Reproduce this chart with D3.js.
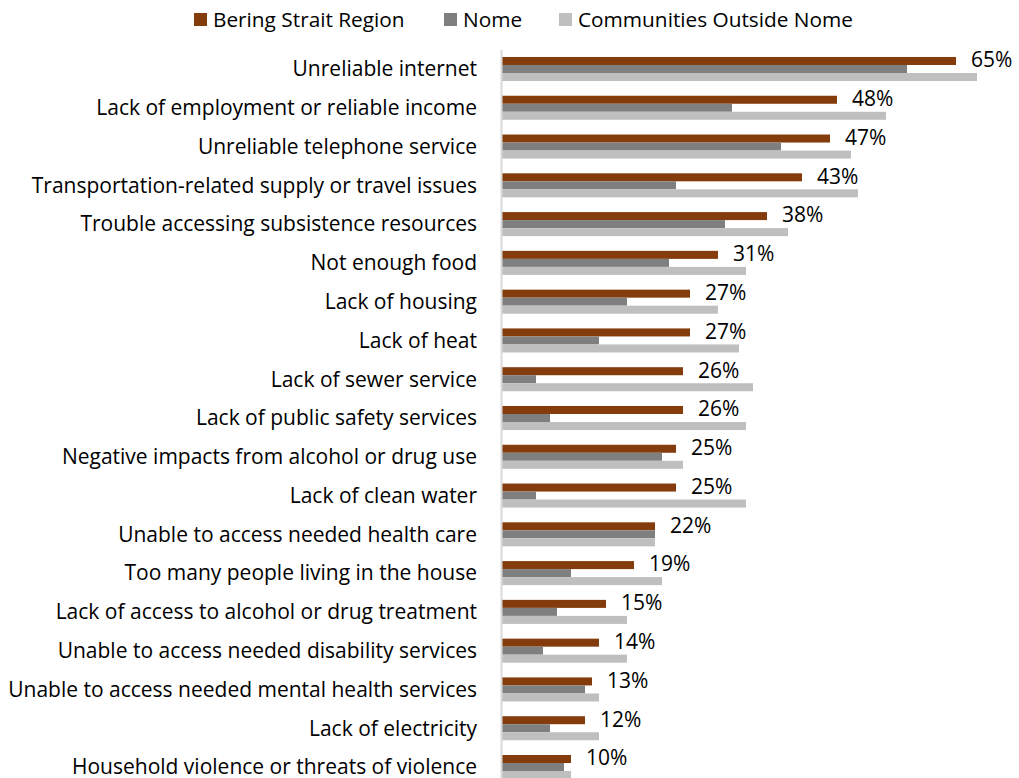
<!DOCTYPE html>
<html lang="en">
<head>
    <meta charset="UTF-8">
    <title>Community challenges - Bering Strait Region</title>
    <script src="https://d3js.org/d3.v7.min.js"></script>
    <style>
        body { margin: 0; background: #fff; }
        svg { display: block; }
        text { font-family: "Open Sans", sans-serif; fill: #000; }
        .axis text { font-size: 21px; }
        .axis .domain { stroke: #d9d9d9; stroke-width: 2px; }
        .legend text { font-size: 20.8px; }
        .value { font-size: 21px; }
    </style>
</head>
<body>
    <svg width="1019" height="778"></svg>

    <script>
        // categories, top to bottom
        const categories = [
            "Unreliable internet",
            "Lack of employment or reliable income",
            "Unreliable telephone service",
            "Transportation-related supply or travel issues",
            "Trouble accessing subsistence resources",
            "Not enough food",
            "Lack of housing",
            "Lack of heat",
            "Lack of sewer service",
            "Lack of public safety services",
            "Negative impacts from alcohol or drug use",
            "Lack of clean water",
            "Unable to access needed health care",
            "Too many people living in the house",
            "Lack of access to alcohol or drug treatment",
            "Unable to access needed disability services",
            "Unable to access needed mental health services",
            "Lack of electricity",
            "Household violence or threats of violence"
        ];

        const seriesNames = ["Bering Strait Region", "Nome", "Communities Outside Nome"];
        const seriesColors = ["#843c0c", "#7f7f7f", "#bfbfbf"];

        // percent values
        const beringStrait = [65, 48, 47, 43, 38, 31, 27, 27, 26, 26, 25, 25, 22, 19, 15, 14, 13, 12, 10];
        const nome         = [58, 33, 40, 25, 32, 24, 18, 14, 5, 7, 23, 5, 22, 10, 8, 6, 12, 7, 9];
        const outsideNome  = [68, 55, 50, 51, 41, 35, 31, 34, 36, 35, 26, 35, 22, 23, 18, 18, 14, 14, 10];

        const seriesValues = [beringStrait, nome, outsideNome];

        const svg = d3.select("svg");

        // 0% sits on x=501, about 7px per percent
        const x = d3.scaleLinear()
            .domain([0, 74])
            .range([501, 1019]);

        const y = d3.scaleBand()
            .domain(categories)
            .range([49.6, 786.4])
            .paddingInner(0.38)
            .paddingOuter(0.19);

        const ySub = d3.scaleBand()
            .domain(seriesNames)
            .range([0, y.bandwidth()]);

        // bars
        const rows = svg.append("g")
            .selectAll("g")
            .data(categories)
            .enter()
            .append("g")
            .attr("transform", d => `translate(0,${y(d)})`);

        rows.selectAll("rect")
            .data((d, i) => seriesNames.map((s, k) => ({ series: s, k: k, value: seriesValues[k][i] })))
            .enter()
            .append("rect")
            .attr("x", x(0))
            .attr("y", d => ySub(d.series))
            .attr("width", d => x(d.value) - x(0))
            .attr("height", ySub.bandwidth())
            .attr("fill", d => seriesColors[d.k]);

        // value labels for the regional series
        rows.append("text")
            .attr("class", "value")
            .attr("x", (d, i) => x(beringStrait[i]) + 15)
            .attr("y", ySub(seriesNames[0]) + ySub.bandwidth() / 2)
            .attr("dy", "0.3em")
            .text((d, i) => beringStrait[i] + "%");

        // category axis
        const axis = svg.append("g")
            .attr("class", "axis")
            .attr("transform", `translate(${x(0)},0)`)
            .call(d3.axisLeft(y).tickSize(0).tickPadding(24).tickSizeOuter(0));

        axis.selectAll(".tick text").attr("dy", "0.35em");

        // legend
        const legendItems = [
            { name: seriesNames[0], x: 194 },
            { name: seriesNames[1], x: 444 },
            { name: seriesNames[2], x: 559 }
        ];

        const legend = svg.append("g")
            .attr("class", "legend")
            .selectAll("g")
            .data(legendItems)
            .enter()
            .append("g")
            .attr("transform", d => `translate(${d.x},13)`);

        legend.append("rect")
            .attr("width", 13)
            .attr("height", 13)
            .attr("fill", (d, i) => seriesColors[i]);

        legend.append("text")
            .attr("x", 19)
            .attr("y", 7)
            .attr("dy", "0.35em")
            .text(d => d.name);
    </script>
</body>
</html>
